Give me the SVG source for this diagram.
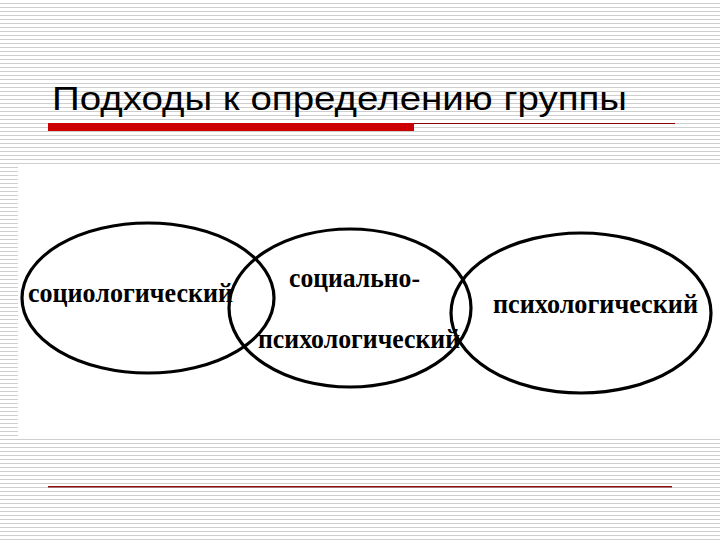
<svg xmlns="http://www.w3.org/2000/svg" width="720" height="540" viewBox="0 0 720 540">
<defs>
<pattern id="stripes" patternUnits="userSpaceOnUse" x="0" y="0" width="4" height="4">
<rect x="0" y="0" width="4" height="4" fill="#ffffff"/>
<rect x="0" y="3" width="4" height="1" fill="#cfcfcf"/>
</pattern>
</defs>
<style>
.title{font-family:"Liberation Sans",Arial,sans-serif;font-size:34px;fill:#000}
.lbl{font-family:"Liberation Serif","Times New Roman",serif;font-weight:bold;font-size:28px;fill:#000}
.ell{fill:none;stroke:#000;stroke-width:3.2}
</style>
<rect x="0" y="0" width="720" height="540" fill="url(#stripes)"/>
<rect x="18" y="166" width="702" height="270" fill="#ffffff"/>
<text class="title" x="52" y="110" textLength="575" lengthAdjust="spacingAndGlyphs">Подходы к определению группы</text>
<rect x="48" y="123" width="366" height="8" fill="#cc0000"/>
<rect x="414" y="123" width="261" height="1" fill="#8b0000"/>
<rect x="48" y="486" width="624" height="1.5" fill="#8a1010"/>
<g id="connectors"></g>
<g id="node-sociological">
<ellipse class="ell" cx="148" cy="298" rx="126" ry="75"/>
<text class="lbl" x="28" y="302" textLength="205" lengthAdjust="spacingAndGlyphs">социологический</text>
</g>
<g id="node-sociopsychological">
<ellipse class="ell" cx="350" cy="308" rx="121" ry="79"/>
<text class="lbl" x="289" y="287" textLength="131" lengthAdjust="spacingAndGlyphs">социально-</text>
<text class="lbl" x="258" y="348" textLength="202" lengthAdjust="spacingAndGlyphs">психологический</text>
</g>
<g id="node-psychological">
<ellipse class="ell" cx="581" cy="313" rx="130" ry="80"/>
<text class="lbl" x="493" y="313" textLength="205" lengthAdjust="spacingAndGlyphs">психологический</text>
</g>
</svg>
